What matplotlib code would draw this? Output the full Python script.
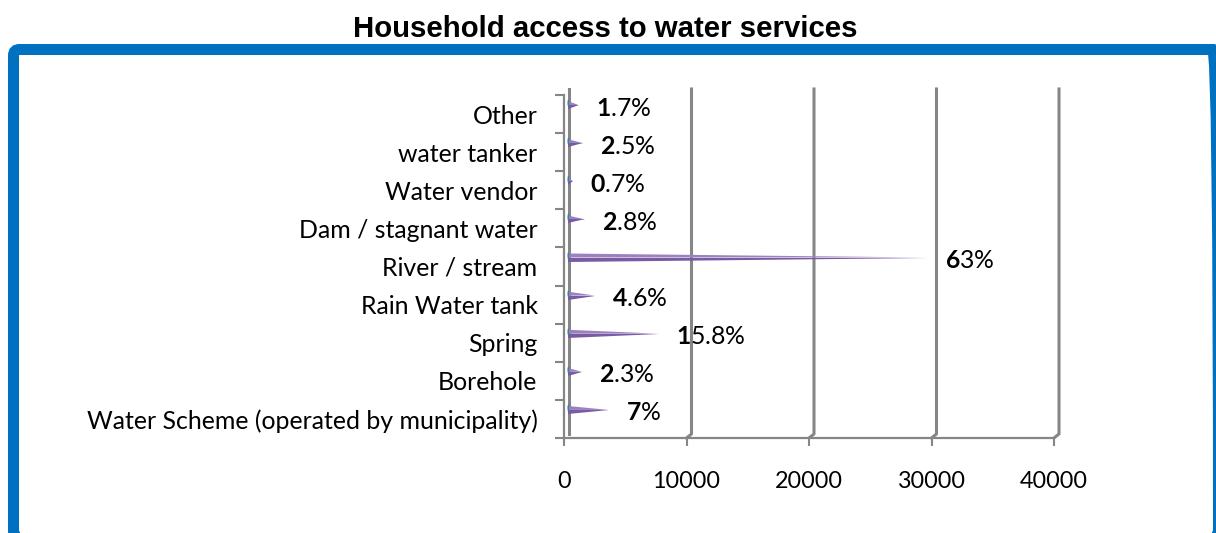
import numpy as np
import matplotlib.pyplot as plt
from matplotlib.patches import FancyBboxPatch, Polygon
from matplotlib.transforms import IdentityTransform

plt.rcParams['font.family'] = ['Lato', 'DejaVu Sans']
plt.rcParams['mathtext.fontset'] = 'custom'
plt.rcParams['mathtext.rm'] = 'Lato'
plt.rcParams['mathtext.bf'] = 'Lato:bold'

# water sources, listed bottom to top
sources = ['Water Scheme (operated by municipality)', 'Borehole', 'Spring',
           'Rain Water tank', 'River / stream', 'Dam / stagnant water',
           'Water vendor', 'water tanker', 'Other']
pct_labels = ['7', '2.3', '15.8', '4.6', '63', '2.8', '0.7', '2.5', '1.7']
total_households = 46500
x_ticks = [0, 10000, 20000, 30000, 40000]

share = np.array([float(p) for p in pct_labels])
households = share / 100 * total_households

W, H, DPI = 1216, 533, 100
fig = plt.figure(figsize=(W / DPI, H / DPI), dpi=DPI)
ax = fig.add_axes([564 / W, (H - 438) / H, 490 / W, 343 / H])
ax.set_xlim(0, 40000)
ax.set_ylim(-0.5, 8.5)

# one pixel in data units, used for the fake 3d depth
px_x = 40000 / 490
px_y = 9 / 343
dx, dy = 5 * px_x, 4 * px_y
top = 8.5 + 2 * px_y + dy

grey = '#868686'

# back wall gridlines with a short slant down to the floor
for x in x_ticks[1:]:
    ax.plot([x, x + dx, x + dx], [-0.5, -0.5 + dy, top], color=grey, lw=2.2,
            solid_joinstyle='round', clip_on=False, zorder=1)
ax.plot([dx, dx], [-0.5 + dy, top], color=grey, lw=2.2, clip_on=False, zorder=1)

# cones
h = 4 * px_y
x0 = 3.5 * px_x
for i, val in enumerate(households):
    yc = i + 9 * px_y
    tip = val + dx
    ax.add_patch(Polygon([(x0, yc), (x0, yc + h), (tip, yc)], closed=True,
                         fc='#9A82BF', ec='none', clip_on=False, zorder=3))
    ax.add_patch(Polygon([(x0, yc - h), (x0, yc), (tip, yc)], closed=True,
                         fc='#7A5BA3', ec='none', clip_on=False, zorder=3))
    ax.plot([x0, x0], [yc, yc + h + px_y], color='#31859C', lw=1,
            clip_on=False, zorder=4)
    p = pct_labels[i]
    ax.annotate(rf'$\mathbf{{{p[0]}}}${p[1:]}%', xy=(tip, yc), xytext=(17, -3),
                textcoords='offset pixels', ha='left', va='center',
                fontsize=17.8, color='black', zorder=5)

ax.set_yticks(range(len(sources)))
ax.set_yticklabels(sources)
ax.set_yticks(np.arange(-0.5, len(sources), 1), minor=True)
ax.tick_params(axis='y', which='major', length=0, pad=19, labelsize=17.9)
ax.tick_params(axis='y', which='minor', length=6.5, width=1.5, color=grey)

ax.set_xticks(x_ticks)
ax.set_xticklabels([str(t) for t in x_ticks])
ax.tick_params(axis='x', length=6, width=1.5, color=grey, pad=18, labelsize=16.8)

for side in ['top', 'right']:
    ax.spines[side].set_visible(False)
for side in ['left', 'bottom']:
    ax.spines[side].set_color(grey)
    ax.spines[side].set_linewidth(1.6)

# blue frame around the chart area
frame = FancyBboxPatch((13.5, -4.0), 1218.5 - 13.5, 483.5 + 4.0,
                       boxstyle='round,pad=0,rounding_size=6',
                       transform=IdentityTransform(), fill=False,
                       ec='#0070C0', lw=11 * 72 / DPI)
fig.add_artist(frame)

fig.text(605 / W, 1 - 29 / H, 'Household access to water services',
         ha='center', va='center', fontsize=21.2, fontweight='bold',
         family='Liberation Sans')

fig.savefig('out.png', dpi=DPI)
